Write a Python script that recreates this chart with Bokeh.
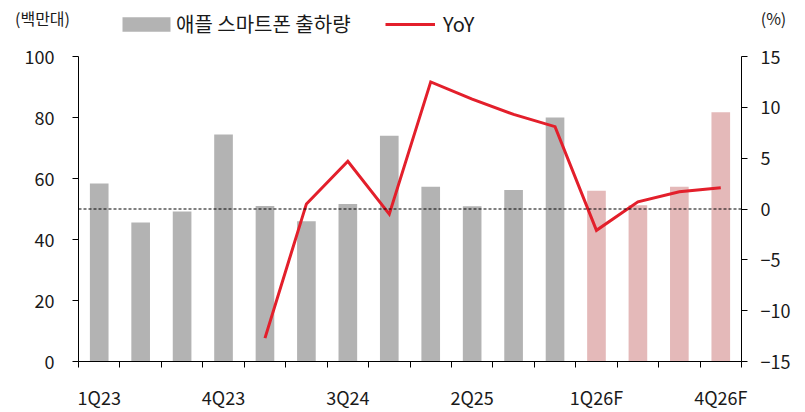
from bokeh.embed import file_html
from bokeh.layouts import column
from bokeh.models import (ColumnDataSource, FixedTicker, Label, Legend, LegendItem,
                          LinearAxis, Range1d, Span)
from bokeh.plotting import figure
from bokeh.resources import INLINE

# Data - Apple smartphone shipments (million units) and YoY (%)
quarters = ["1Q23", "2Q23", "3Q23", "4Q23", "1Q24", "2Q24", "3Q24", "4Q24",
            "1Q25", "2Q25", "3Q25", "4Q25", "1Q26F", "2Q26F", "3Q26F", "4Q26F"]
shipments = [58.4, 45.6, 49.2, 74.4, 51.0, 46.0, 51.6, 74.0,
             57.3, 50.9, 56.2, 80.0, 56.0, 51.2, 57.3, 81.7]
yoy = [None, None, None, None, -12.7, 0.5, 4.7, -0.5,
       12.5, 10.8, 9.3, 8.1, -2.1, 0.7, 1.7, 2.1]
forecast = [q.endswith("F") for q in quarters]
shown_labels = ["1Q23", "4Q23", "3Q24", "2Q25", "1Q26F", "4Q26F"]

FONT = "Noto Sans CJK KR"
GREY = "#b3b3b3"
PINK = "#e4b9b9"
RED = "#e31f2b"
INK = "#1a1a1a"
W = 797
HEADER_H = 42
BOTTOM = 50

xs = [i + 0.5 for i in range(len(quarters))]

src_act = ColumnDataSource(data={
    "x": [x for x, f in zip(xs, forecast) if not f],
    "v": [v for v, f in zip(shipments, forecast) if not f],
})
src_fc = ColumnDataSource(data={
    "x": [x for x, f in zip(xs, forecast) if f],
    "v": [v for v, f in zip(shipments, forecast) if f],
})
src_yoy = ColumnDataSource(data={
    "x": [x for x, y in zip(xs, yoy) if y is not None],
    "y": [y for y in yoy if y is not None],
})

# Main chart
p = figure(
    width=W, height=362 - HEADER_H + BOTTOM,
    x_range=Range1d(0, len(quarters)), y_range=Range1d(0, 100),
    output_backend="svg", toolbar_location=None,
    min_border_left=78, min_border_right=56, min_border_top=56 - HEADER_H,
    min_border_bottom=BOTTOM,
)
p.extra_y_ranges = {"yoy": Range1d(-15, 15)}
p.outline_line_color = None
p.xgrid.grid_line_color = None
p.ygrid.grid_line_color = None

p.vbar(x="x", top="v", source=src_act, width=0.45, fill_color=GREY, line_color=None)
p.vbar(x="x", top="v", source=src_fc, width=0.45, fill_color=PINK, line_color=None)

p.add_layout(Span(location=0, dimension="width", y_range_name="yoy",
                  line_color="black", line_width=1, line_dash="3 2"))

p.line(x="x", y="y", source=src_yoy, y_range_name="yoy",
       line_color=RED, line_width=3, line_join="miter")

# x axis: boundary ticks as minor ticks, labels on every third quarter
xa = p.xaxis[0]
label_pos = [xs[quarters.index(q)] for q in shown_labels]
xa.ticker = FixedTicker(ticks=label_pos, minor_ticks=list(range(len(quarters) + 1)))
xa.major_label_overrides = {pos: q for pos, q in zip(label_pos, shown_labels)}
xa.major_tick_line_color = None
xa.minor_tick_out = 6
xa.minor_tick_in = 0
xa.minor_tick_line_color = "black"
xa.major_label_standoff = 16

ya = p.yaxis[0]
ya.ticker = FixedTicker(ticks=[0, 20, 40, 60, 80, 100])
ya.major_label_standoff = 18

yr = LinearAxis(y_range_name="yoy")
yr.ticker = FixedTicker(ticks=[-15, -10, -5, 0, 5, 10, 15])
yr.major_label_overrides = {-15: "\u221215", -10: "\u221210", -5: "\u22125"}
yr.major_label_standoff = 13
p.add_layout(yr, "right")

for ax in [xa, ya, yr]:
    ax.axis_line_color = "black"
    ax.axis_line_width = 1
    ax.major_tick_in = 0
    ax.major_tick_out = 6
    ax.major_label_text_font = FONT
    ax.major_label_text_font_size = "18px"
    ax.major_label_text_color = INK
for ax in [ya, yr]:
    ax.major_tick_line_color = "black"
    ax.minor_tick_line_color = None

# Header strip: unit labels and legend (kept out of the clipped chart frame)
h = figure(
    width=W, height=HEADER_H,
    x_range=Range1d(0, W), y_range=Range1d(HEADER_H, 0),
    x_axis_location=None, y_axis_location=None,
    output_backend="svg", toolbar_location=None,
    min_border=0,
)
h.outline_line_color = None
h.xgrid.grid_line_color = None
h.ygrid.grid_line_color = None
# don't let the column stretch the header's frame to line up with the chart's
for fig in (h, p):
    if "frame_align" in fig.properties():
        fig.frame_align = False

h.add_layout(Label(x=42, y=17, text="(백만대)", text_font=FONT, text_font_size="16px",
                   text_align="center", text_baseline="middle", text_color=INK))
h.add_layout(Label(x=773, y=17, text="(%)", text_font=FONT, text_font_size="16px",
                   text_align="center", text_baseline="middle", text_color=INK))

# legend keys: one off-screen sample each, only their legend glyphs show
key_bar = h.vbar(x=[-100], top=[0], width=1, fill_color=GREY, line_color=None)
key_line = h.line(x=[-100, -99], y=[0, 0], line_color=RED, line_width=3)

for items, loc, gw, standoff in [
    ([LegendItem(label="애플 스마트폰 출하량", renderers=[key_bar])], (116, 4), 60, 0),
    ([LegendItem(label="YoY", renderers=[key_line])], (385, 4), 50, 8),
]:
    lg = Legend(items=items, location=loc, orientation="horizontal",
                glyph_width=gw, glyph_height=18, label_height=18,
                label_standoff=standoff, padding=0, margin=0, spacing=0,
                border_line_color=None, background_fill_alpha=0,
                label_text_font=FONT, label_text_font_size="20px",
                label_text_color=INK)
    h.add_layout(lg, "center")

layout = column(h, p, spacing=0)

open("out.html", "w").write(file_html(layout, INLINE))
